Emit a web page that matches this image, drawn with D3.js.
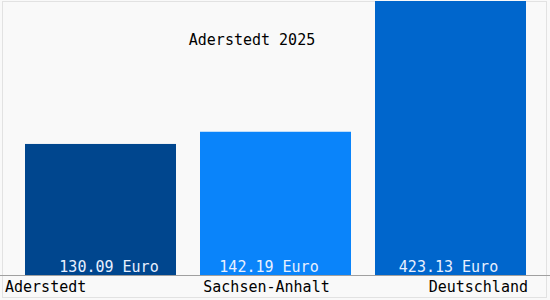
<!DOCTYPE html>
<html>
<head>
<meta charset="utf-8">
<script src="https://cdn.jsdelivr.net/npm/d3@7"></script>
<style>
  body { margin: 0; background: #f9f9f9; }
  text { font-family: "DejaVu Sans Mono", monospace; font-size: 15px; }
</style>
</head>
<body>
<svg id="chart" width="550" height="300"></svg>
<script>
const regions = ['Aderstedt', 'Sachsen-Anhalt', 'Deutschland'];
const values = [130.09, 142.19, 423.13];
const valueLabels = ['130.09 Euro', '142.19 Euro', '423.13 Euro'];
const title = 'Aderstedt 2025';

const colors = ['#00468e', '#0a84fa', '#0066cc'];
const labelShift = [8.5, -6.5, -2];

const svg = d3.select('#chart');

svg.append('rect')
    .attr('x', 2.5).attr('y', 1.5)
    .attr('width', 544).attr('height', 296)
    .attr('fill', '#f9f9f9')
    .attr('stroke', '#e2e2e2');

const x = d3.scaleBand()
    .domain(regions)
    .range([25, 526])
    .paddingInner(24 / 175)
    .paddingOuter(0);

const y = d3.scaleLinear()
    .domain([0, 272])
    .range([275, 1])
    .clamp(true);

svg.selectAll('rect.bar').data(values)
  .enter().append('rect')
    .attr('class', 'bar')
    .attr('x', (d, i) => x(regions[i]))
    .attr('width', x.bandwidth())
    .attr('y', d => y(d))
    .attr('height', d => y(0) - y(d))
    .attr('fill', (d, i) => colors[i]);

svg.selectAll('text.val').data(valueLabels)
  .enter().append('text')
    .attr('class', 'val')
    .attr('x', (d, i) => x(regions[i]) + x.bandwidth() / 2 + labelShift[i])
    .attr('y', 272)
    .attr('text-anchor', 'middle')
    .attr('fill', '#e8f0ff')
    .text(d => d);

svg.append('line')
    .attr('x1', 0).attr('x2', 550)
    .attr('y1', 275.5).attr('y2', 275.5)
    .attr('stroke', '#a0a0a0');

const anchors = ['start', 'middle', 'end'];
const xs = [5, 266.5, 528];
svg.selectAll('text.cat').data(regions)
  .enter().append('text')
    .attr('class', 'cat')
    .attr('x', (d, i) => xs[i])
    .attr('y', 292)
    .attr('text-anchor', (d, i) => anchors[i])
    .attr('fill', '#000')
    .text(d => d);

svg.append('text')
    .attr('x', 252)
    .attr('y', 45)
    .attr('text-anchor', 'middle')
    .attr('fill', '#000')
    .text(title);
</script>
</body>
</html>
